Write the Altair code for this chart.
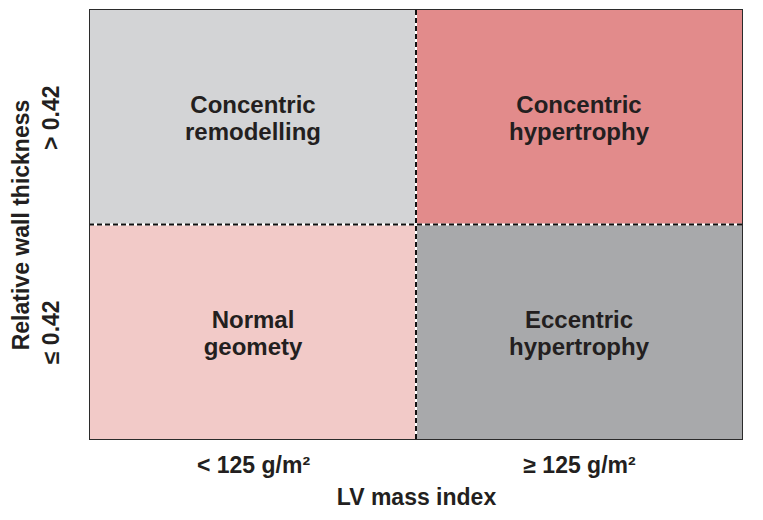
import altair as alt
import pandas as pd

# Quadrant data
x_lo = [0, 1, 0, 1]
x_hi = [1, 2, 1, 2]
y_lo = [1, 1, 0, 0]
y_hi = [2, 2, 1, 1]
names = ["Concentric\nremodelling", "Concentric\nhypertrophy", "Normal\ngeomety", "Eccentric\nhypertrophy"]
fills = ["#d3d4d6", "#e28b8b", "#f2cac8", "#a8a9ab"]

x_tick_values = [0.5, 1.5]
x_tick_labels = ["< 125 g/m²", "≥ 125 g/m²"]
y_tick_values = [1.5, 0.5]
y_tick_labels = ["> 0.42", "≤ 0.42"]

split_x = [1]
split_y = [1]

df = pd.DataFrame({
    "x": x_lo, "x2": x_hi, "y": y_lo, "y2": y_hi,
    "name": names,
    "cx": [(a + b) / 2 for a, b in zip(x_lo, x_hi)],
    "cy": [(a + b) / 2 for a, b in zip(y_lo, y_hi)],
})

FONT = "Liberation Sans"
INK = "#231f20"

def label_expr(values, labels):
    parts = " : ".join(
        f"datum.value == {v} ? '{l}'" for v, l in zip(values, labels)
    )
    return parts + " : ''"

xscale = alt.Scale(domain=[0, 2], nice=False, zero=False)
yscale = alt.Scale(domain=[0, 2], nice=False, zero=False)

x_axis = alt.Axis(
    values=x_tick_values, labelExpr=label_expr(x_tick_values, x_tick_labels),
    ticks=False, tickSize=0, domain=False, grid=False,
    labelFont=FONT, labelFontSize=23, labelFontWeight="bold", labelColor=INK,
    labelPadding=15, title="LV mass index", titleFont=FONT, titleFontSize=23,
    titleFontWeight="bold", titleColor=INK, titlePadding=9,
)
y_axis = alt.Axis(
    values=y_tick_values, labelExpr=label_expr(y_tick_values, y_tick_labels),
    ticks=False, tickSize=0, domain=False, grid=False,
    labelAngle=-90, labelAlign="center", labelBaseline="bottom",
    labelFont=FONT, labelFontSize=23, labelFontWeight="bold", labelColor=INK,
    labelPadding=27, title="Relative wall thickness", titleFont=FONT,
    titleFontSize=23, titleFontWeight="bold", titleColor=INK, titlePadding=7,
)

rects = alt.Chart(df).mark_rect(stroke=None).encode(
    x=alt.X("x:Q", scale=xscale, axis=x_axis),
    x2="x2:Q",
    y=alt.Y("y:Q", scale=yscale, axis=y_axis),
    y2="y2:Q",
    color=alt.Color("name:N", scale=alt.Scale(domain=names, range=fills), legend=None),
)

vdf = pd.DataFrame({"v": split_x})
hdf = pd.DataFrame({"v": split_y})

vwhite = alt.Chart(vdf).mark_rule(color="white", strokeWidth=2).encode(
    x=alt.X("v:Q", scale=xscale))
vdash = alt.Chart(vdf).mark_rule(color="#111", strokeWidth=2, strokeDash=[5, 3]).encode(
    x=alt.X("v:Q", scale=xscale))
hwhite = alt.Chart(hdf).mark_rule(color="white", strokeWidth=2).encode(
    y=alt.Y("v:Q", scale=yscale))
hdash = alt.Chart(hdf).mark_rule(color="#111", strokeWidth=2, strokeDash=[5, 3]).encode(
    y=alt.Y("v:Q", scale=yscale))

texts = alt.Chart(df).mark_text(
    font=FONT, fontSize=24, fontWeight="bold", color=INK,
    lineBreak="\n", lineHeight=27, align="center", baseline="middle", dy=-11,
).encode(
    x=alt.X("cx:Q", scale=xscale),
    y=alt.Y("cy:Q", scale=yscale),
    text="name:N",
)

chart = alt.layer(rects, vwhite, vdash, hwhite, hdash, texts).properties(
    width=652, height=429,
    autosize=alt.AutoSizeParams(type="none"),
    padding={"left": 82, "top": 2, "right": 13, "bottom": 73},
    background="white",
).configure_view(stroke="#2b2b2b", strokeWidth=2)

chart.save("out.html", embed_options={"renderer": "svg", "actions": False})
